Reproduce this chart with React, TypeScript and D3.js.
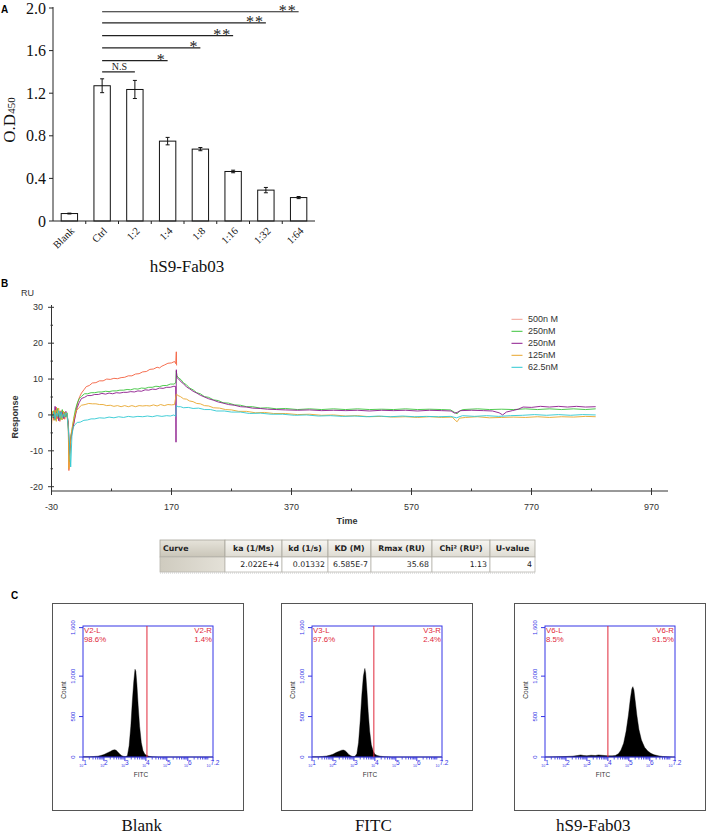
import React from 'react';
import * as d3 from 'd3';

// ---------- Panel A data ----------
const categories = ['Blank', 'Ctrl', '1:2', '1:4', '1:8', '1:16', '1:32', '1:64'];
const odValues = [0.07, 1.27, 1.235, 0.75, 0.675, 0.465, 0.29, 0.22];
const odErrors = [0.004, 0.065, 0.085, 0.035, 0.015, 0.012, 0.025, 0.01];
const yTicksA = [0, 0.4, 0.8, 1.2, 1.6, 2.0];
const yTickLabelsA = ['0', '0.4', '0.8', '1.2', '1.6', '2.0'];
const sigTargets = ['1:2', '1:4', '1:8', '1:16', '1:32', '1:64'];
const sigLevels = [1.4, 1.505, 1.625, 1.74, 1.86, 1.965];
const sigLabels = ['N.S', '*', '*', '**', '**', '**'];

// ---------- Panel B data (time s, response RU) ----------
const xTicksB = [-30, 170, 370, 570, 770, 970];
const xMinorTicksB = [70, 270, 470, 670, 870];
const yTicksB = [-20, -10, 0, 10, 20, 30];
const yMinorTicksB = [-15, -5, 5, 15, 25];
const legendLabels = ['500n M', '250nM', '250nM', '125nM', '62.5nM'];
const curveColors = ['#f4603e', '#3cc43c', '#8c1a8c', '#e8a62c', '#2ec8d2'];
const legendColors = ['#f2a094', '#3cc43c', '#8c1a8c', '#e8a62c', '#2ec8d2'];

const curve500: [number, number][] = [
  [-30, -0.3], [-28, 1.0], [-26, -1.5], [-24, 0.8], [-22, 2.2], [-20, -1.0], [-18, 0.5], [-16, -1.8], [-14, 1.2], [-12, -0.5], [-10, 0.9], [-8, -1.2], [-6, 0.4], [-4, -0.3],
  [-2, -4], [-1, -15.5], [1, -8], [3, -5.5], [5, -4.4], [8, -1.5], [11, 1.6], [14, 3.6], [17, 5.1], [20, 6.1], [24, 7.0], [28, 7.9], [33, 8.2], [38, 8.9], [44, 9.0], [50, 9.5], [56, 9.5], [62, 10.0], [68, 9.9], [74, 10.2], [80, 10.1], [86, 10.4], [92, 10.5], [98, 10.9], [104, 10.9], [110, 11.4], [116, 11.5], [122, 12.0], [128, 12.1], [134, 12.7], [140, 12.8], [146, 13.3], [150, 13.1], [154, 13.6], [158, 13.9], [164, 14.4], [170, 14.5], [175, 14.9], [177, 14.3], [178, 17.6], [178.5, 13.8],
];
const curve250a: [number, number][] = [
  [-30, 0.5], [-28, -0.8], [-26, 1.2], [-24, -1.5], [-22, 0.3], [-20, 1.8], [-18, -0.9], [-16, 0.7], [-14, -1.3], [-12, 1.5], [-10, -0.4], [-8, 0.8], [-6, -0.6], [-4, 0.6],
  [-2, -3], [0, -13], [2, -6], [4, -4.5], [7, -1], [10, 1.6], [13, 3.3], [16, 4.5], [20, 5.2], [25, 5.9], [30, 5.9], [36, 6.2], [42, 6.2], [48, 6.4], [54, 6.4], [60, 6.6], [66, 6.5], [72, 6.7], [78, 6.7], [84, 6.9], [90, 6.9], [96, 7.1], [102, 7.0], [108, 7.3], [114, 7.2], [120, 7.5], [126, 7.4], [132, 7.7], [138, 7.7], [144, 8.0], [150, 7.9], [156, 8.2], [162, 8.2], [168, 8.6], [174, 8.6], [177, 8.9], [178, 12.2], [179, 10.9],
  [182, 10.3], [186, 9.8], [190, 8.9], [195, 8.4], [200, 7.5], [206, 7.0], [212, 6.2], [218, 5.9], [225, 5.1], [232, 4.9], [240, 4.2], [248, 4.0], [256, 3.4], [265, 3.3], [275, 2.8], [285, 2.7], [295, 2.3], [305, 2.3], [318, 1.9], [330, 2.0], [345, 1.7], [360, 1.8], [380, 1.5], [400, 1.7], [420, 1.5], [440, 1.7], [460, 1.5], [480, 1.7], [500, 1.5], [520, 1.6], [540, 1.5], [560, 1.7], [580, 1.5], [600, 1.6], [620, 1.5], [635, 1.4], [642, 0.7], [646, 0.3], [650, 1.1], [656, 1.5], [680, 1.7], [700, 1.5], [720, 1.6], [740, 1.5], [760, 1.7], [780, 1.5], [800, 1.7], [820, 1.5], [840, 1.7], [860, 1.5], [877, 1.7],
];
const curve250b: [number, number][] = [
  [-30, -0.5], [-28, 0.6], [-26, -0.9], [-24, 2.4], [-22, -1.2], [-20, 0.4], [-18, -1.6], [-16, 1.0], [-14, -0.3], [-12, 0.7], [-10, -1.0], [-8, 0.3], [-6, 1.0], [-4, -0.2],
  [-2, -2], [0, -11], [2, -7], [4, -5], [7, -2.5], [10, 0], [13, 2.1], [16, 3.4], [20, 4.6], [25, 4.9], [30, 5.4], [36, 5.4], [42, 5.7], [48, 5.7], [54, 6.0], [60, 5.8], [66, 6.1], [72, 5.9], [78, 6.2], [84, 6.1], [90, 6.3], [96, 6.3], [102, 6.5], [108, 6.4], [114, 6.7], [120, 6.6], [126, 7.0], [132, 6.9], [138, 7.2], [144, 7.1], [150, 7.5], [156, 7.4], [162, 7.7], [168, 7.7], [174, 8.0], [177, 7.9], [177.5, -7.6], [178, 12.6], [179, 10.4],
  [182, 10.0], [186, 9.2], [190, 8.7], [195, 7.8], [200, 7.3], [206, 6.6], [212, 6.1], [218, 5.5], [225, 5.0], [232, 4.5], [240, 4.1], [248, 3.6], [256, 3.3], [265, 2.9], [275, 2.7], [285, 2.3], [295, 2.2], [305, 1.9], [318, 1.8], [330, 1.6], [345, 1.5], [360, 1.4], [380, 1.3], [400, 1.4], [420, 1.2], [440, 1.3], [460, 1.2], [480, 1.3], [500, 1.1], [520, 1.3], [540, 1.2], [560, 1.3], [580, 1.1], [600, 1.3], [620, 1.2], [636, 1.1], [642, 0.5], [646, 0.7], [652, 1.2], [670, 1.3], [690, 1.2], [705, 1.1], [716, 0.6], [722, 0.0], [728, 0.8], [738, 1.2], [748, 1.6], [756, 2.2], [770, 2.1], [785, 2.4], [800, 2.2], [815, 2.4], [830, 2.2], [845, 2.4], [860, 2.2], [877, 2.3],
];
const curve125: [number, number][] = [
  [-30, -2.8], [-28, 0.9], [-26, -0.5], [-24, 1.4], [-22, -1.8], [-20, 0.6], [-18, 1.9], [-16, -0.9], [-14, 0.4], [-12, -1.4], [-10, 1.1], [-8, -0.3], [-6, 0.7], [-4, 0.1],
  [-2, -3], [-1, -15], [1, -9], [3, -5], [5, -3], [8, -0.6], [11, 1.1], [15, 1.9], [20, 2.7], [26, 2.9], [32, 3.2], [38, 3.1], [44, 3.1], [50, 2.9], [56, 2.9], [62, 2.6], [68, 2.7], [74, 2.4], [80, 2.6], [86, 2.3], [92, 2.6], [98, 2.3], [104, 2.6], [110, 2.3], [116, 2.6], [122, 2.5], [128, 2.6], [134, 2.5], [140, 2.8], [146, 2.5], [152, 2.9], [158, 2.6], [164, 2.9], [170, 2.8], [175, 2.9], [178, 5.8],
  [181, 5.4], [185, 5.1], [190, 4.5], [195, 4.4], [200, 3.9], [206, 3.7], [212, 3.2], [218, 3.1], [225, 2.6], [232, 2.5], [240, 2.0], [250, 1.9], [260, 1.5], [270, 1.4], [282, 1.0], [295, 1.0], [310, 0.6], [325, 0.7], [340, 0.4], [360, 0.4], [380, 0.1], [400, 0.2], [420, -0.1], [440, 0.0], [460, -0.3], [480, -0.2], [500, -0.5], [520, -0.4], [540, -0.6], [560, -0.5], [580, -0.7], [600, -0.5], [620, -0.7], [638, -0.6], [643, -1.5], [646, -1.9], [650, -0.9], [660, -0.7], [680, -0.5], [700, -0.8], [720, -0.7], [740, -0.6], [760, -0.7], [780, -0.5], [800, -0.7], [820, -0.5], [840, -0.6], [860, -0.4], [877, -0.5],
];
const curve62: [number, number][] = [
  [-30, 0.2], [-28, -0.6], [-26, 0.8], [-24, -1.0], [-22, 0.5], [-20, -0.4], [-18, 1.2], [-16, -0.7], [-14, 0.9], [-12, -0.8], [-10, 0.3], [-8, -0.5], [-6, 0.6], [-4, 0.0],
  [0, -8], [2, -14.5], [4, -6], [6, -3.5], [9, -2.7], [13, -2.1], [18, -2.0], [24, -1.5], [30, -1.4], [36, -1.1], [42, -1.1], [50, -0.8], [58, -0.9], [66, -0.6], [74, -0.8], [82, -0.5], [90, -0.7], [98, -0.4], [106, -0.6], [114, -0.4], [122, -0.5], [130, -0.3], [138, -0.5], [146, -0.2], [154, -0.4], [162, -0.2], [168, -0.3], [174, 0.0], [177, -0.4], [178, 2.6],
  [181, 2.3], [185, 2.3], [190, 2.0], [198, 2.1], [206, 1.8], [215, 1.9], [225, 1.5], [235, 1.5], [245, 1.1], [258, 1.1], [270, 0.8], [285, 0.8], [300, 0.4], [318, 0.5], [336, 0.2], [355, 0.2], [375, -0.1], [395, 0.0], [415, -0.3], [435, -0.2], [455, -0.4], [475, -0.3], [495, -0.5], [515, -0.3], [535, -0.5], [555, -0.3], [575, -0.5], [595, -0.4], [615, -0.5], [635, -0.4], [645, -0.8], [655, -0.2], [675, -0.4], [695, -0.2], [715, -0.4], [735, -0.2], [755, -0.1], [775, 0.1], [795, -0.1], [815, 0.1], [835, -0.1], [855, 0.1], [877, 0.0],
];
const curvesB = [curve500, curve250a, curve250b, curve125, curve62];

// ---------- Kinetics table ----------
const tableHeaders = ['Curve', 'ka (1/Ms)', 'kd (1/s)', 'KD (M)', 'Rmax (RU)', 'Chi² (RU²)', 'U-value'];
const tableValues = ['', '2.022E+4', '0.01332', '6.585E-7', '35.68', '1.13', '4'];

// ---------- Panel C data (FITC log10 intensity, count) ----------
const flowTitles = ['Blank', 'FITC', 'hS9-Fab03'];
const gateNames = ['V2', 'V3', 'V6'];
const gateLeftPct = ['98.6%', '97.6%', '8.5%'];
const gateRightPct = ['1.4%', '2.4%', '91.5%'];
const gateLog = [4.05, 3.95, 4.0];
const countTicks = [0, 500, 1000, 1600];
const countTickLabels = ['0', '500', '1,000', '1,600'];
const decades = [1, 2, 3, 4, 5, 6, 7.2];
const decadeLabels = ['1', '2', '3', '4', '5', '6', '7.2'];
const histBlank: [number, number][] = [
  [1.0, 3], [1.3, 4], [1.5, 6], [1.7, 10], [1.85, 18], [2.0, 30], [2.15, 50], [2.3, 68], [2.4, 82], [2.5, 90], [2.58, 85], [2.65, 65], [2.75, 38], [2.85, 16], [2.95, 7], [3.05, 6], [3.12, 20], [3.2, 140], [3.28, 380], [3.35, 680], [3.42, 930], [3.48, 1085], [3.52, 1060], [3.57, 900], [3.63, 640], [3.7, 380], [3.78, 180], [3.86, 80], [3.95, 35], [4.05, 18], [4.15, 8], [4.3, 3], [4.6, 0], [7.2, 0],
];
const histFITC: [number, number][] = [
  [1.0, 2], [1.3, 4], [1.5, 7], [1.7, 12], [1.85, 22], [2.0, 34], [2.15, 55], [2.3, 72], [2.42, 84], [2.5, 86], [2.58, 78], [2.66, 58], [2.75, 32], [2.85, 14], [2.95, 6], [3.05, 8], [3.14, 40], [3.22, 180], [3.3, 450], [3.38, 780], [3.45, 1000], [3.52, 1095], [3.56, 1040], [3.62, 820], [3.68, 560], [3.75, 320], [3.83, 150], [3.92, 70], [4.0, 35], [4.1, 20], [4.25, 10], [4.45, 4], [4.8, 0], [7.2, 0],
];
const histFab: [number, number][] = [
  [1.0, 0], [1.5, 2], [2.0, 6], [2.3, 10], [2.55, 18], [2.7, 26], [2.85, 18], [3.0, 16], [3.2, 22], [3.4, 18], [3.55, 26], [3.7, 22], [3.85, 18], [4.0, 14], [4.2, 14], [4.35, 18], [4.5, 40], [4.62, 85], [4.75, 170], [4.87, 320], [4.98, 520], [5.07, 720], [5.14, 840], [5.19, 870], [5.24, 830], [5.3, 700], [5.38, 520], [5.48, 340], [5.6, 210], [5.75, 120], [5.9, 75], [6.05, 45], [6.2, 28], [6.4, 15], [6.6, 7], [6.85, 2], [7.1, 0], [7.2, 0],
];
const histograms = [histBlank, histFITC, histFab];

const SERIF = '"Liberation Serif", "Times New Roman", serif';
const SANS = '"Liberation Sans", Arial, sans-serif';
const VERD = '"DejaVu Sans", Verdana, sans-serif';

function PanelA() {
  const x = d3.scaleBand<string>().domain(categories).range([53, 315]).paddingInner(0.5).paddingOuter(0.25);
  const y = d3.scaleLinear().domain([0, 2]).range([221, 8]);
  const bw = x.bandwidth();
  const cx = (c: string) => (x(c) as number) + bw / 2;
  const step = x.step();
  const boundaries = categories.slice(1).map((c) => (x(c) as number) - (step - bw) / 2);
  return (
    <g>
      <text x={1} y={13} fontFamily={SANS} fontWeight="bold" fontSize={10}>A</text>
      {/* bars */}
      {categories.map((c, i) => (
        <g key={c}>
          <rect x={x(c)} y={y(odValues[i])} width={bw} height={y(0) - y(odValues[i])} fill="#fff" stroke="#111" strokeWidth={1} />
          <line x1={cx(c)} x2={cx(c)} y1={y(odValues[i] - odErrors[i])} y2={y(odValues[i] + odErrors[i])} stroke="#111" strokeWidth={1} />
          <line x1={cx(c) - 2} x2={cx(c) + 2} y1={y(odValues[i] - odErrors[i])} y2={y(odValues[i] - odErrors[i])} stroke="#111" strokeWidth={1} />
          <line x1={cx(c) - 2} x2={cx(c) + 2} y1={y(odValues[i] + odErrors[i])} y2={y(odValues[i] + odErrors[i])} stroke="#111" strokeWidth={1} />
        </g>
      ))}
      {/* axes */}
      <line x1={53} x2={53} y1={y(2.0) - 1} y2={y(0)} stroke="#222" />
      <line x1={53} x2={315} y1={y(0)} y2={y(0)} stroke="#222" />
      {yTicksA.map((t, i) => (
        <g key={t}>
          <line x1={49} x2={53} y1={y(t)} y2={y(t)} stroke="#222" />
          <text x={46} y={y(t)} dy="0.35em" textAnchor="end" fontFamily={SERIF} fontSize={16} fill="#111">{yTickLabelsA[i]}</text>
        </g>
      ))}
      {boundaries.map((b, i) => (
        <line key={i} x1={b} x2={b} y1={y(0)} y2={y(0) + 3} stroke="#222" />
      ))}
      {categories.map((c) => (
        <text key={c} transform={`translate(${cx(c) + 3},${229}) rotate(-45)`} dy="0.35em" textAnchor="end" fontFamily={SERIF} fontSize={10.5} fill="#111">{c}</text>
      ))}
      <text transform={`translate(15,120) rotate(-90)`} textAnchor="middle" fontFamily={SERIF} fontSize={17} fill="#111">
        O.D<tspan fontSize={11}>450</tspan>
      </text>
      <text x={187} y={272} textAnchor="middle" fontFamily={SERIF} fontSize={17} fill="#111">hS9-Fab03</text>
      {/* significance */}
      {sigTargets.map((t, i) => {
        const x1 = cx('Ctrl');
        const x2 = cx(t);
        const yy = y(sigLevels[i]);
        return (
          <g key={i}>
            <line x1={x1} x2={x2} y1={yy} y2={yy} stroke="#222" strokeWidth={1.2} />
            {sigLabels[i] === 'N.S' ? (
              <text x={(x1 + x2) / 2 + 1} y={yy - 1.5} textAnchor="middle" fontFamily={SERIF} fontSize={10} fill="#222">N.S</text>
            ) : (
              <text x={x2 - 2} y={yy + 4.5} textAnchor="end" fontFamily={SERIF} fontSize={16} letterSpacing={1} fill="#222">{sigLabels[i]}</text>
            )}
          </g>
        );
      })}
    </g>
  );
}

function PanelB() {
  const x = d3.scaleLinear().domain([-30, 970]).range([51.5, 651.5]);
  const y = d3.scaleLinear().domain([-20, 30]).range([486.7, 307.3]);
  const line = d3.line<[number, number]>().x((d) => x(d[0])).y((d) => y(d[1]));
  const axisY = 491;
  return (
    <g>
      <text x={1} y={287} fontFamily={SANS} fontWeight="bold" fontSize={10}>B</text>
      <text x={21} y={296} fontFamily={SANS} fontSize={9} fill="#333">RU</text>
      <defs>
        <clipPath id="clipB">
          <rect x={52} y={300} width={620} height={190} />
        </clipPath>
      </defs>
      <g clipPath="url(#clipB)">
        {curvesB.map((c, i) => (
          <path key={i} d={line(c) || ''} fill="none" stroke={curveColors[i]} strokeWidth={0.9} strokeLinejoin="round" />
        ))}
      </g>
      <line x1={51.5} x2={51.5} y1={305} y2={axisY} stroke="#333" />
      <line x1={51.5} x2={668} y1={axisY} y2={axisY} stroke="#333" />
      {yTicksB.map((t) => (
        <g key={t}>
          <line x1={48} x2={54} y1={y(t)} y2={y(t)} stroke="#333" />
          <text x={43} y={y(t)} dy="0.35em" textAnchor="end" fontFamily={SANS} fontSize={9} fill="#333">{t}</text>
        </g>
      ))}
      {yMinorTicksB.map((t) => (
        <line key={t} x1={50.5} x2={53} y1={y(t)} y2={y(t)} stroke="#333" />
      ))}
      {xTicksB.map((t) => (
        <g key={t}>
          <line x1={x(t)} x2={x(t)} y1={axisY - 3} y2={axisY + 4} stroke="#333" />
          <text x={x(t)} y={510} textAnchor="middle" fontFamily={SANS} fontSize={9} fill="#333">{t}</text>
        </g>
      ))}
      {xMinorTicksB.map((t) => (
        <line key={t} x1={x(t)} x2={x(t)} y1={axisY - 2.5} y2={axisY} stroke="#333" />
      ))}
      <text transform="translate(18,417) rotate(-90)" textAnchor="middle" fontFamily={SANS} fontWeight="bold" fontSize={9} fill="#333">Response</text>
      <text x={347} y={524} textAnchor="middle" fontFamily={SANS} fontWeight="bold" fontSize={9} fill="#333">Time</text>
      {legendLabels.map((l, i) => (
        <g key={i}>
          <line x1={511.5} x2={522.5} y1={319.3 + i * 12} y2={319.3 + i * 12} stroke={legendColors[i]} strokeWidth={1} />
          <text x={528} y={319.3 + i * 12} dy="0.35em" fontFamily={SANS} fontSize={9} fill="#333">{l}</text>
        </g>
      ))}
    </g>
  );
}

function KineticsTable() {
  const cols = [160, 225, 282, 328, 371, 432, 490, 535];
  const top = 540;
  const mid = 557;
  const bot = 572;
  return (
    <g>
      <defs>
        <linearGradient id="hdrFirst" x1="0" x2="0" y1="0" y2="1">
          <stop offset="0" stopColor="#e6e3da" />
          <stop offset="1" stopColor="#c9c5b8" />
        </linearGradient>
        <linearGradient id="hdr" x1="0" x2="0" y1="0" y2="1">
          <stop offset="0" stopColor="#f7f6f2" />
          <stop offset="1" stopColor="#dedbd2" />
        </linearGradient>
        <linearGradient id="rowFirst" x1="0" x2="1" y1="0" y2="0">
          <stop offset="0" stopColor="#cfcbbf" />
          <stop offset="1" stopColor="#e4e1d8" />
        </linearGradient>
      </defs>
      {tableHeaders.map((h, i) => (
        <g key={i}>
          <rect x={cols[i]} y={top} width={cols[i + 1] - cols[i]} height={mid - top} fill={i === 0 ? 'url(#hdrFirst)' : 'url(#hdr)'} stroke="#a9a69c" strokeWidth={0.8} />
          <text x={i === 0 ? cols[i] + 3 : (cols[i] + cols[i + 1]) / 2} y={(top + mid) / 2} dy="0.36em" textAnchor={i === 0 ? 'start' : 'middle'} fontFamily={VERD} fontWeight="bold" fontSize={7.8} fill="#222">{h}</text>
          <rect x={cols[i]} y={mid} width={cols[i + 1] - cols[i]} height={bot - mid} fill={i === 0 ? 'url(#rowFirst)' : '#fff'} stroke="#b8b6ae" strokeWidth={0.8} />
          {tableValues[i] !== '' && (
            <text x={cols[i + 1] - 3} y={(mid + bot) / 2} dy="0.36em" textAnchor="end" fontFamily={VERD} fontSize={7.8} fill="#222">{tableValues[i]}</text>
          )}
        </g>
      ))}
      <line x1={cols[0]} x2={cols[cols.length - 1]} y1={bot + 1} y2={bot + 1} stroke="#c8c8c8" strokeWidth={1.2} strokeDasharray="1 1" />
    </g>
  );
}

function FlowPanel({ idx }: { idx: number }) {
  const boxXs = [52, 281, 514];
  const bx = boxXs[idx];
  const by = 603;
  const bw = 191;
  const bh = 207;
  const left = bx + 31;
  const right = bx + 161;
  const top = 626;
  const bottom = 757;
  const x = d3.scaleLog().domain([10, Math.pow(10, 7.2)]).range([left, right]);
  const y = d3.scaleLinear().domain([0, 1620]).range([bottom, top]);
  const area = d3.area<[number, number]>().x((d) => x(Math.pow(10, d[0]))).y0(bottom).y1((d) => y(d[1]));
  const blue = '#3535e6';
  const red = '#e0283a';
  const minor: number[] = [];
  for (let e = 1; e < 8; e++) {
    for (let m = 2; m <= 9; m++) {
      const v = m * Math.pow(10, e);
      if (v <= Math.pow(10, 7.2)) minor.push(v);
    }
  }
  const labelXs = [bx + 90, bx + 322 - 229, bx + 593 - 514];
  return (
    <g>
      <rect x={bx + 0.5} y={by + 0.5} width={bw} height={bh} fill="#fff" stroke="#555" strokeWidth={1} />
      <path d={area(histograms[idx]) || ''} fill="#000" stroke="#000" strokeWidth={0.4} />
      <rect x={left} y={top} width={right - left} height={bottom - top} fill="none" stroke={blue} strokeWidth={1} />
      {/* gate */}
      <line x1={x(Math.pow(10, gateLog[idx]))} x2={x(Math.pow(10, gateLog[idx]))} y1={top} y2={bottom} stroke={red} strokeWidth={1} />
      <text x={left + 1} y={633} fontFamily={SANS} fontSize={7.8} fill={red}>{gateNames[idx]}-L</text>
      <text x={left + 1} y={642} fontFamily={SANS} fontSize={7.8} fill={red}>{gateLeftPct[idx]}</text>
      <text x={right - 1} y={633} textAnchor="end" fontFamily={SANS} fontSize={7.8} fill={red}>{gateNames[idx]}-R</text>
      <text x={right - 1} y={642} textAnchor="end" fontFamily={SANS} fontSize={7.8} fill={red}>{gateRightPct[idx]}</text>
      {/* y ticks */}
      {countTicks.map((t, i) => (
        <g key={t}>
          <line x1={left - 4} x2={left} y1={y(t)} y2={y(t)} stroke={blue} />
          <text transform={`translate(${left - 8},${y(t)}) rotate(-90)`} textAnchor="middle" fontFamily={SANS} fontSize={6} fill={blue}>{countTickLabels[i]}</text>
        </g>
      ))}
      <text transform={`translate(${left - 17},${690}) rotate(-90)`} textAnchor="middle" fontFamily={SANS} fontSize={6.5} fill="#333">Count</text>
      {/* x ticks */}
      {minor.map((v, i) => (
        <line key={i} x1={x(v)} x2={x(v)} y1={bottom} y2={bottom + 2.5} stroke={blue} strokeWidth={0.8} />
      ))}
      {decades.map((d, i) => (
        <g key={d}>
          <line x1={x(Math.pow(10, d))} x2={x(Math.pow(10, d))} y1={bottom} y2={bottom + 4} stroke={blue} />
          <text x={x(Math.pow(10, d))} y={767} textAnchor="middle" fontFamily={SANS} fill={blue}>
            <tspan fontSize={3.5}>10</tspan>
            <tspan fontSize={6.5} dy={-2}>{decadeLabels[i]}</tspan>
          </text>
        </g>
      ))}
      <text x={left + 58} y={777} textAnchor="middle" fontFamily={SANS} fontSize={6.5} fill="#333">FITC</text>
      <text x={[141.7, 373.3, 593.3][idx]} y={831} textAnchor="middle" fontFamily={SERIF} fontSize={17} fill="#111">{flowTitles[idx]}</text>
    </g>
  );
}

export default function App() {
  return (
    <svg width={708} height={835} viewBox="0 0 708 835" style={{ position: 'absolute', left: 0, top: 0, background: '#fff' }}>
      <rect x={0} y={0} width={708} height={835} fill="#fff" />
      <PanelA />
      <PanelB />
      <KineticsTable />
      <text x={11} y={599} fontFamily={SANS} fontWeight="bold" fontSize={10}>C</text>
      {[0, 1, 2].map((i) => (
        <FlowPanel key={i} idx={i} />
      ))}
    </svg>
  );
}
